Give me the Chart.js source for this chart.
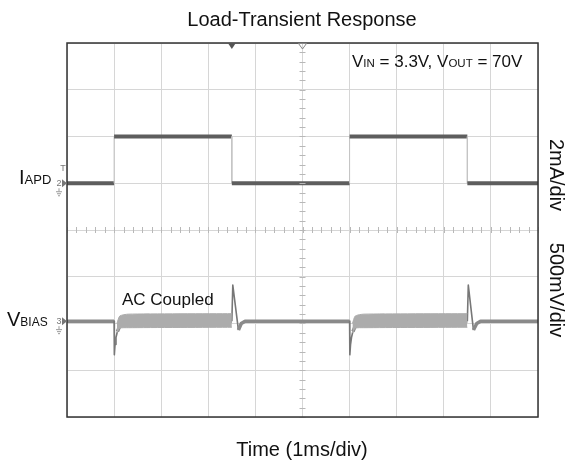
<!DOCTYPE html>
<html>
<head>
<meta charset="utf-8">
<script src="https://cdn.jsdelivr.net/npm/chart.js@4.4.0/dist/chart.umd.min.js"></script>
<style>
html,body{margin:0;padding:0;background:#fff;}
#wrap{width:571px;height:464px;}
</style>
</head>
<body>
<div id="wrap"><canvas id="c" width="571" height="464"></canvas></div>
<script>
// ---- data (time in ms = divisions, level in divisions from screen centre) ----
const iapdTime  = [0, 1.0, 1.0, 3.5, 3.5, 6.0, 6.0, 8.5, 8.5, 10];
const iapdLevel = [1, 1,   2,   2,   1,   1,   2,   2,   1,   1];

const vbiasTime  = [0, 1.0, 1.005, 1.02, 1.04, 1.07, 1.11, 1.17, 1.3, 3.5, 3.52, 3.64, 3.7, 3.78,
                    6.0, 6.005, 6.02, 6.04, 6.07, 6.11, 6.17, 6.3, 8.5, 8.52, 8.63, 8.7, 8.78, 10];
const vbiasLevel = [-1.95, -1.95, -2.67, -2.45, -2.3, -2.17, -2.08, -2.0, -1.96, -1.95, -1.18, -2.14, -2.0, -1.95,
                    -1.95, -2.67, -2.45, -2.3, -2.17, -2.08, -2.0, -1.96, -1.95, -1.18, -2.14, -2.0, -1.95, -1.95];
// ripple envelope while the load is high
const bandTime  = [1.06, 1.12, 1.3, 3.5, 5.0, 6.06, 6.12, 6.3, 8.5];
const bandUpper = [-2.0, -1.84, -1.8, -1.79, null, -2.0, -1.84, -1.8, -1.79];
const bandLower = [-2.2, -2.1, -2.09, -2.08, null, -2.2, -2.1, -2.09, -2.08];

const xDivs = [0, 10];
const yDivs = [-4, 4];

const pts = (xs, ys) => xs.map((x, i) => ({x: x, y: ys[i]}));
const FONT = '"Liberation Sans", Arial, sans-serif';

const decor = {
  id: 'decor',
  afterDatasetsDraw(chart) {
    const ctx = chart.ctx, a = chart.chartArea;
    const xs = chart.scales.x, ys = chart.scales.y;
    ctx.save();
    // minor ticks on centre lines
    ctx.strokeStyle = '#b8b8b8'; ctx.lineWidth = 1;
    const y0 = ys.getPixelForValue(0), x0 = xs.getPixelForValue(5);
    for (let v = 0; v <= 10.001; v += 0.2) {
      const px = Math.round(xs.getPixelForValue(v)) + 0.5;
      ctx.beginPath(); ctx.moveTo(px, y0 - 3); ctx.lineTo(px, y0 + 3); ctx.stroke();
    }
    for (let v = -4; v <= 4.001; v += 0.2) {
      const py = Math.round(ys.getPixelForValue(v)) + 0.5;
      ctx.beginPath(); ctx.moveTo(x0 - 3, py); ctx.lineTo(x0 + 3, py); ctx.stroke();
    }
    // frame
    ctx.strokeStyle = '#333'; ctx.lineWidth = 1.5;
    ctx.strokeRect(a.left, a.top, a.right - a.left, a.bottom - a.top);
    // trigger markers
    const tx = xs.getPixelForValue(3.5);
    ctx.fillStyle = '#555';
    ctx.beginPath(); ctx.moveTo(tx - 4, a.top); ctx.lineTo(tx + 4, a.top); ctx.lineTo(tx, a.top + 6); ctx.closePath(); ctx.fill();
    const cx = xs.getPixelForValue(5);
    ctx.strokeStyle = '#888'; ctx.lineWidth = 1;
    ctx.beginPath(); ctx.moveTo(cx - 4, a.top + 0.5); ctx.lineTo(cx + 4, a.top + 0.5); ctx.lineTo(cx, a.top + 6); ctx.closePath(); ctx.stroke();
    // channel markers
    function chan(level, num, withT) {
      const py = ys.getPixelForValue(level);
      ctx.fillStyle = '#777';
      ctx.beginPath(); ctx.moveTo(a.left - 5, py - 4); ctx.lineTo(a.left, py); ctx.lineTo(a.left - 5, py + 4); ctx.closePath(); ctx.fill();
      ctx.font = '9px ' + FONT; ctx.textAlign = 'center'; ctx.textBaseline = 'middle';
      ctx.fillText(num, a.left - 8, py);
      ctx.strokeStyle = '#999'; ctx.lineWidth = 1;
      ctx.beginPath();
      ctx.moveTo(a.left - 8, py + 5); ctx.lineTo(a.left - 8, py + 8);
      ctx.moveTo(a.left - 11, py + 8.5); ctx.lineTo(a.left - 5, py + 8.5);
      ctx.moveTo(a.left - 10, py + 10.5); ctx.lineTo(a.left - 6, py + 10.5);
      ctx.moveTo(a.left - 9, py + 12.5); ctx.lineTo(a.left - 7, py + 12.5);
      ctx.stroke();
      if (withT) { ctx.fillText('T', a.left - 4, py - 15); }
    }
    chan(1, '2', true);
    chan(-1.95, '3', false);
    ctx.restore();
  },
  afterDraw(chart) {
    const ctx = chart.ctx;
    ctx.save();
    ctx.fillStyle = '#111';
    ctx.textBaseline = 'alphabetic';
    ctx.textAlign = 'center';
    ctx.font = '20px ' + FONT;
    ctx.fillText('Load-Transient Response', 302, 26);
    ctx.fillText('Time (1ms/div)', 302, 456);
    // mixed-size runs on a shared baseline
    function run(x, y, parts) {
      ctx.textAlign = 'left';
      parts.forEach(p => { ctx.font = p[1] + 'px ' + FONT; ctx.fillText(p[0], x, y); x += ctx.measureText(p[0]).width; });
    }
    run(352, 67, [['V', 17], ['IN', 11.5], [' = 3.3V, V', 17], ['OUT', 11.5], [' = 70V', 17]]);
    run(122, 305, [['AC Coupled', 17]]);
    run(19, 184, [['I', 20], ['APD', 13]]);
    run(7, 326, [['V', 20], ['BIAS', 12]]);
    // rotated division labels
    ctx.font = '20px ' + FONT; ctx.textAlign = 'center'; ctx.textBaseline = 'middle';
    [['2mA/div', 175], ['500mV/div', 290]].forEach(t => {
      ctx.save(); ctx.translate(556, t[1]); ctx.rotate(Math.PI / 2); ctx.fillText(t[0], 0, 0); ctx.restore();
    });
    ctx.restore();
  }
};

const steep = c => Math.abs((c.p1.parsed.y - c.p0.parsed.y) / Math.max(1e-6, c.p1.parsed.x - c.p0.parsed.x)) > 3;

new Chart(document.getElementById('c'), {
  type: 'line',
  data: {
    datasets: [
      {
        label: 'IAPD', data: pts(iapdTime, iapdLevel),
        borderColor: '#5e5e5e', borderWidth: 4, pointRadius: 0, tension: 0,
        borderCapStyle: 'butt',
        segment: {
          borderColor: c => c.p0.parsed.x === c.p1.parsed.x ? '#c4c4c4' : undefined,
          borderWidth: c => c.p0.parsed.x === c.p1.parsed.x ? 1 : undefined
        }
      },
      {
        label: 'band upper', data: pts(bandTime, bandUpper),
        borderColor: '#acacac', borderWidth: 1, backgroundColor: '#acacac',
        pointRadius: 0, fill: '+1', spanGaps: false, tension: 0.2
      },
      {
        label: 'band lower', data: pts(bandTime, bandLower),
        borderColor: '#acacac', borderWidth: 1, pointRadius: 0, fill: false, spanGaps: false, tension: 0.2
      },
      {
        label: 'VBIAS', data: pts(vbiasTime, vbiasLevel),
        borderColor: '#8a8a8a', borderWidth: 3.5, pointRadius: 0, tension: 0,
        borderJoinStyle: 'round',
        segment: {
          borderWidth: c => steep(c) ? 1.6 : undefined,
          borderColor: c => steep(c) ? '#777' : undefined
        }
      }
    ]
  },
  options: {
    responsive: false,
    animation: false,
    layout: { padding: { left: 67, right: 33, top: 43, bottom: 47 } },
    plugins: { legend: { display: false }, tooltip: { enabled: false }, title: { display: false } },
    scales: {
      x: {
        type: 'linear', min: xDivs[0], max: xDivs[1],
        ticks: { display: false, stepSize: 1 },
        grid: { color: '#d6d6d6', lineWidth: 1, drawTicks: false },
        border: { display: false }
      },
      y: {
        type: 'linear', min: yDivs[0], max: yDivs[1],
        ticks: { display: false, stepSize: 1 },
        grid: { color: '#d6d6d6', lineWidth: 1, drawTicks: false },
        border: { display: false }
      }
    }
  },
  plugins: [decor]
});
</script>
</body>
</html>
